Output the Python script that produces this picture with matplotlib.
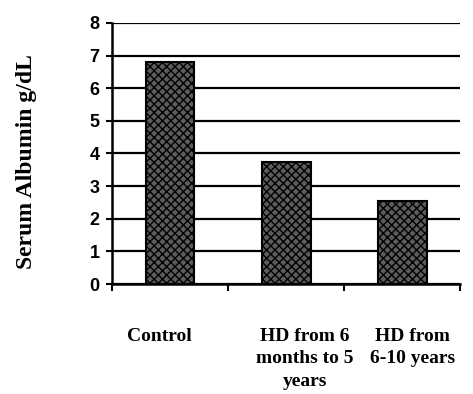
import matplotlib.pyplot as plt

plt.rcParams['hatch.linewidth'] = 1.0

# data
groups = ['Control', 'HD from 6\nmonths to 5\nyears', 'HD from\n6-10 years']
albumin = [6.8, 3.75, 2.55]
y_ticks = [0, 1, 2, 3, 4, 5, 6, 7, 8]

fig = plt.figure(figsize=(4.73, 3.94), dpi=100)
ax = fig.add_axes([0.237, 0.279, 0.736, 0.663])

pos = list(range(len(groups)))
ax.bar(pos, albumin, width=0.42, color='#5c5c5c', edgecolor='black',
       hatch='xxxx', linewidth=1.5, zorder=3)

# gridlines
ax.set_ylim(0, 8)
ax.set_xlim(-0.5, len(groups) - 0.5)
ax.set_yticks(y_ticks)
ax.yaxis.grid(True, color='black', linewidth=1.6, zorder=0)
ax.set_axisbelow(True)

for s in ['top', 'right']:
    ax.spines[s].set_visible(False)
ax.spines['left'].set_linewidth(1.8)
ax.spines['bottom'].set_linewidth(1.8)

ax.tick_params(axis='y', direction='out', length=4, width=1.5, pad=5)
for lb in ax.get_yticklabels():
    lb.set_fontfamily('Liberation Sans')
    lb.set_fontweight('bold')
    lb.set_fontsize(13)

# category boundaries as ticks, labels placed separately
ax.set_xticks([p - 0.5 for p in pos] + [len(groups) - 0.5])
ax.set_xticklabels([])
ax.tick_params(axis='x', direction='out', length=5, width=1.5)

label_shift = [-0.09, 0.16, 0.09]
for p, g, d in zip(pos, groups, label_shift):
    ax.text(p + d, -1.33, g, ha='center', va='top', fontsize=14,
            fontfamily='Liberation Serif', fontweight='bold',
            linespacing=1.45, transform=ax.transData, clip_on=False)

ax.set_ylabel('Serum Albumin g/dL', fontsize=17, fontfamily='Liberation Serif',
              fontweight='bold')
ax.yaxis.set_label_coords(-0.215, 0.47)

fig.savefig('out.png', dpi=100)
